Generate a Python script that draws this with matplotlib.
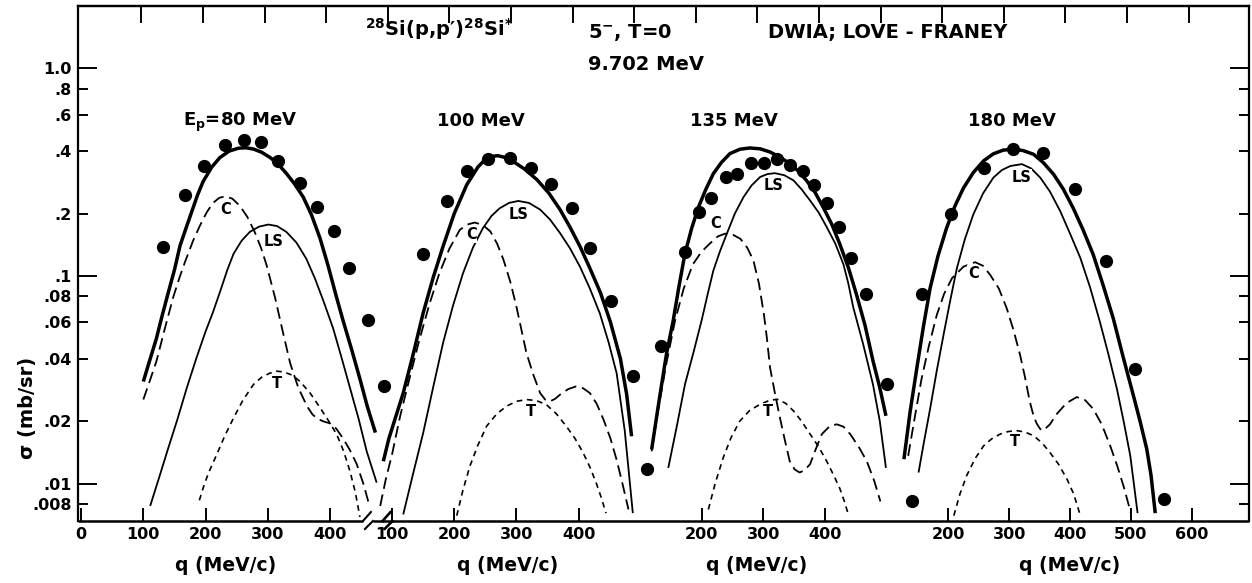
import matplotlib
matplotlib.use("Agg")
import matplotlib.pyplot as plt
import numpy as np
from matplotlib.transforms import blended_transform_factory
from matplotlib.ticker import FixedLocator, FixedFormatter

plt.rcParams["font.family"] = ["DejaVu Sans"]
plt.rcParams["font.weight"] = "bold"
plt.rcParams["mathtext.default"] = "regular"

# values: (q in MeV/c, sigma in mb/sr)
# E_p = 80 MeV
exp80 = [(132, .138), (167, .246), (197, .340), (231, .427), (261, .452), (289, .443),
         (317, .359), (351, .280), (379, .216), (407, .164), (431, .109), (461, .0614),
         (486, .0294)]
tot80 = [(100, .031), (110, .039), (121, .050), (130, .064), (140, .083), (150, .107),
         (159, .140), (168, .168), (178, .205), (187, .245), (196, .285), (210, .335),
         (223, .372), (238, .400), (253, .413), (265, .415), (277, .409), (290, .395),
         (304, .372), (317, .345), (330, .312), (343, .278), (357, .240), (370, .198),
         (384, .152), (397, .112), (410, .080), (421, .061), (435, .044), (448, .032),
         (460, .0235), (473, .0176)]
c80 = [(100, .0254), (110, .031), (121, .0388), (134, .055), (148, .079), (158, .098),
       (167, .117), (180, .148), (191, .175), (202, .203), (212, .225), (222, .238),
       (231, .242), (243, .236), (255, .218), (267, .193), (279, .163), (289, .137),
       (298, .113), (305, .094), (312, .078), (319, .063), (326, .051), (336, .038),
       (349, .029), (363, .0236), (372, .0215), (380, .0205), (390, .0199), (400, .0195),
       (410, .0184), (421, .0165), (432, .0145), (443, .0124), (454, .0099), (464, .0077)]
ls80 = [(111, .0078), (125, .0106), (140, .0148), (155, .0205), (170, .029), (185, .040),
        (200, .054), (212, .067), (225, .087), (235, .107), (245, .128), (258, .148),
        (271, .163), (286, .173), (301, .177), (315, .174), (330, .163), (346, .145),
        (362, .121), (376, .097), (390, .075), (405, .056), (418, .041), (432, .029),
        (446, .0205), (459, .0143), (475, .0101)]
t80 = [(190, .0083), (197, .0097), (205, .0113), (218, .0138), (231, .0170), (245, .0207),
       (260, .0252), (277, .030), (290, .0325), (303, .0340), (314, .0348), (326, .0345),
       (340, .0332), (352, .031), (368, .0273), (384, .0232), (398, .0200), (411, .0172),
       (422, .0143), (432, .0115), (441, .0090), (448, .0069)]

# E_p = 100 MeV
exp100 = [(150, .128), (188, .231), (221, .319), (255, .367), (290, .370), (324, .331),
          (356, .278), (390, .212), (418, .136), (452, .0754), (487, .0331), (509, .0118)]
tot100 = [(86, .0128), (95, .0165), (106, .021), (118, .0273), (134, .042), (150, .0663),
          (166, .098), (182, .139), (200, .200), (220, .275), (238, .335), (250, .365),
          (258, .376), (270, .380), (283, .372), (295, .356), (314, .326), (333, .291),
          (352, .251), (370, .209), (386, .172), (402, .139), (418, .109), (435, .083),
          (451, .060), (467, .040), (477, .027), (485, .0169)]
c100 = [(81, .0078), (90, .0105), (100, .0138), (113, .0211), (128, .032), (144, .0493),
        (160, .073), (176, .103), (192, .135), (209, .167), (221, .177), (233, .181),
        (246, .176), (258, .164), (269, .143), (279, .120), (290, .094), (300, .071),
        (308, .055), (316, .0426), (327, .0335), (338, .0273), (346, .0254), (354, .0249),
        (362, .0256), (370, .0268), (383, .0285), (396, .0294), (407, .0288), (418, .0273),
        (429, .0242), (440, .0203), (451, .0165), (461, .0130), (471, .0098), (480, .0075)]
ls100 = [(118, .0071), (134, .0112), (150, .0175), (166, .029), (182, .0476), (198, .072),
         (214, .103), (230, .137), (246, .170), (260, .195), (273, .212), (288, .225),
         (303, .230), (320, .225), (338, .209), (354, .187), (370, .161), (386, .136),
         (402, .111), (418, .087), (434, .066), (448, .048), (461, .034), (474, .018),
         (487, .0072)]
t100 = [(204, .0070), (214, .0093), (225, .0121), (238, .0153), (252, .0189), (268, .0216),
        (284, .0236), (300, .0249), (316, .0254), (332, .0251), (348, .0240), (364, .0217),
        (380, .0189), (394, .0165), (407, .0141), (418, .0120), (428, .0101), (436, .0086),
        (444, .0072)]

# E_p = 135 MeV
exp135 = [(135, .0461), (173, .130), (196, .203), (215, .238), (240, .300), (258, .311),
          (280, .352), (302, .352), (323, .368), (343, .341), (364, .319), (382, .273),
          (404, .225), (423, .173), (442, .122), (467, .0819), (501, .0301), (542, .0082)]
tot135 = [(119, .0146), (131, .025), (143, .042), (154, .061), (163, .088), (173, .128),
          (184, .170), (195, .215), (207, .262), (219, .311), (232, .352), (246, .389),
          (262, .408), (278, .414), (295, .410), (311, .396), (327, .374), (343, .348),
          (357, .320), (370, .289), (384, .253), (397, .215), (411, .178), (424, .143),
          (438, .110), (451, .0819), (465, .058), (478, .039), (489, .029), (499, .0212)]
c135 = [(119, .0143), (130, .023), (143, .038), (157, .061), (171, .087), (186, .114),
        (200, .131), (213, .143), (226, .155), (238, .160), (251, .158), (263, .151),
        (274, .137), (284, .119), (293, .092), (301, .0656), (306, .050), (311, .0362),
        (319, .0272), (327, .0208), (335, .0162), (343, .0128), (351, .0117), (359, .0113),
        (367, .0116), (376, .0124), (385, .0146), (395, .0173), (407, .0188), (419, .0193),
        (430, .0188), (441, .0173), (455, .0150), (468, .0128), (480, .0103), (490, .0082)]
ls135 = [(146, .0119), (160, .019), (173, .030), (187, .043), (200, .061), (210, .082),
         (219, .106), (230, .132), (241, .160), (254, .200), (268, .240), (281, .273),
         (295, .300), (307, .310), (319, .313), (334, .306), (349, .289), (362, .262),
         (376, .231), (390, .202), (403, .172), (417, .143), (430, .114), (438, .092),
         (446, .0706), (462, .047), (478, .030), (489, .020), (499, .0119)]
t135 = [(211, .0075), (222, .0100), (235, .0133), (248, .0167), (262, .0200), (278, .0225),
        (295, .0241), (308, .0250), (322, .0255), (336, .0244), (349, .0224), (362, .0200),
        (376, .0173), (390, .0150), (403, .0128), (414, .0110), (424, .0095), (431, .0083),
        (438, .0071)]

# E_p = 180 MeV
exp180 = [(156, .0816), (204, .199), (258, .333), (306, .411), (356, .391), (408, .262),
          (459, .1175), (506, .0357), (555, .0084)]
tot180 = [(127, .0131), (137, .022), (148, .0357), (159, .057), (170, .0873), (183, .125),
          (197, .170), (211, .218), (225, .266), (241, .315), (258, .359), (274, .388),
          (290, .404), (307, .409), (323, .402), (340, .386), (356, .352), (373, .309),
          (389, .262), (405, .213), (421, .168), (438, .127), (454, .091), (471, .0625),
          (487, .041), (504, .0266), (515, .020), (526, .0147), (533, .011), (540, .0072)]
c180 = [(134, .0136), (145, .021), (156, .032), (168, .046), (181, .0649), (193, .082),
        (206, .0976), (225, .111), (244, .1166), (257, .112), (269, .101), (283, .087),
        (296, .0698), (307, .055), (318, .0415), (326, .0325), (334, .0247), (340, .0212),
        (345, .0195), (351, .0183), (356, .018), (367, .0193), (378, .0216), (394, .0244),
        (411, .0261), (425, .0252), (438, .0229), (452, .0193), (466, .0152), (477, .0123),
        (488, .0097), (500, .0072)]
ls180 = [(151, .0113), (160, .0159), (170, .0229), (181, .035), (192, .0519), (203, .076),
         (214, .109), (227, .150), (241, .198), (257, .250), (274, .298), (288, .324),
         (302, .339), (321, .346), (336, .330), (351, .298), (367, .255), (384, .205),
         (400, .160), (417, .122), (433, .088), (449, .0602), (463, .042), (477, .0286),
         (488, .020), (499, .0136), (511, .0072)]
t180 = [(209, .0070), (219, .0089), (230, .0109), (244, .0132), (258, .0152), (271, .0164),
        (285, .0173), (298, .0178), (312, .0180), (326, .0177), (340, .0170), (354, .0157),
        (367, .0141), (381, .0124), (395, .0105), (406, .0089), (417, .0070)]

# each panel sits on one shared abscissa: X = shift + stretch * q
panels = [
    dict(exp=exp80, tot=tot80, c=c80, ls=ls80, t=t80, shift=0.0, stretch=1.0,
         ticks=[0, 100, 200, 300, 400], title="E$_p$=80 MeV", title_q=164, xlab_q=233,
         lab_c=(233, .209), lab_ls=(309, .147), lab_t=(314, .0305), brk=461),
    dict(exp=exp100, tot=tot100, c=c100, ls=ls100, t=t100, shift=399.7, stretch=1.0,
         ticks=[100, 200, 300, 400], title="100 MeV", title_q=172, xlab_q=286,
         lab_c=(228, .158), lab_ls=(304, .197), lab_t=(324, .0223), brk=493),
    dict(exp=exp135, tot=tot135, c=c135, ls=ls135, t=t135, shift=799.0, stretch=0.991,
         ticks=[200, 300, 400], title="135 MeV", title_q=181, xlab_q=290,
         lab_c=(222, .179), lab_ls=(316, .272), lab_t=(308, .0223), brk=492),
    dict(exp=exp180, tot=tot180, c=c180, ls=ls180, t=t180, shift=1198.2, stretch=0.978,
         ticks=[200, 300, 400, 500, 600], title="180 MeV", title_q=232, xlab_q=400,
         lab_c=(241, .103), lab_ls=(321, .299), lab_t=(310, .0159), brk=None),
]

W, H = 1252, 583
X0, X1 = -5, 1877
fig = plt.figure(figsize=(W / 100, H / 100), dpi=100)
ax = fig.add_axes([78 / W, 62 / H, 1171 / W, 515 / H])
ax.set_xlim(X0, X1)
ax.set_yscale("log")
ax.set_ylim(0.0066, 2.0)
tr = blended_transform_factory(ax.transData, ax.transAxes)


def to_x(p, q):
    return p["shift"] + p["stretch"] * np.asarray(q, dtype=float)


styles = {
    "tot": dict(lw=2.5),
    "ls": dict(lw=1.3),
    "c": dict(lw=1.3, dashes=(6.5, 3.2)),
    "t": dict(lw=1.2, dashes=(3.4, 2.8)),
}

xt, xl = [], []
for p in panels:
    for key, st in styles.items():
        q, s = zip(*p[key])
        ax.plot(to_x(p, q), s, color="black", solid_capstyle="butt", **st)
    q, s = zip(*p["exp"])
    ax.plot(to_x(p, q), s, "o", color="black", ms=8.5, zorder=5)
    for key, txt in [("lab_c", "C"), ("lab_ls", "LS"), ("lab_t", "T")]:
        lq, lsig = p[key]
        ax.text(to_x(p, lq), lsig, txt, fontsize=10.5, ha="center", va="center",
                bbox=dict(fc="white", ec="none", pad=0.3))
    ax.text(to_x(p, p["title_q"]), 0.53, p["title"], fontsize=13, ha="left",
            va="baseline")
    ax.text(to_x(p, p["xlab_q"]), -0.068, "q (MeV/c)", transform=tr,
            fontsize=13.5, ha="center", va="top")
    xt += list(to_x(p, p["ticks"]))
    xl += [str(v) for v in p["ticks"]]

# y axis: long ticks at decades, short ones at 2-4-6-8, all labelled
ax.yaxis.set_major_locator(FixedLocator([0.01, 0.1, 1.0]))
ax.yaxis.set_major_formatter(FixedFormatter([".01", ".1", "1.0"]))
ax.yaxis.set_minor_locator(FixedLocator([.008, .02, .04, .06, .08, .2, .4, .6, .8]))
ax.yaxis.set_minor_formatter(FixedFormatter([".008", ".02", ".04", ".06", ".08",
                                             ".2", ".4", ".6", ".8"]))
ax.tick_params(axis="y", which="both", direction="in", left=True, right=True,
               labelsize=11.5, pad=4.5, width=1.4)
ax.tick_params(axis="y", which="major", length=13.5)
ax.tick_params(axis="y", which="minor", length=7)

ax.set_xticks(xt)
ax.set_xticklabels(xl)
ax.xaxis.set_minor_locator(FixedLocator([]))
ax.tick_params(axis="x", which="both", direction="in", length=9.5, width=1.4,
               labelsize=11.5, pad=4)

top = ax.secondary_xaxis("top")
top.set_xticks(97 + 99 * np.arange(18))
top.set_xticklabels([])
top.tick_params(direction="in", length=12, width=1.4)
top.spines["top"].set_linewidth(1.6)

for side in ["left", "right", "top"]:
    ax.spines[side].set_linewidth(1.6)
ax.spines["bottom"].set_visible(False)

# broken bottom axis with // marks between the panels
px_x = (X1 - X0) / 1171.0
px_y = 1 / 515.0
prev = X0
for p in panels:
    b = p["brk"]
    if b is None:
        continue
    ax.plot([prev, b - 5 * px_x], [0, 0], color="black", lw=1.8, transform=tr,
            clip_on=False, solid_capstyle="butt")
    ax.plot([b - 5 * px_x, b + 3 * px_x], [0, 9 * px_y], color="black", lw=1.5,
            transform=tr, clip_on=False)
    ax.plot([b - 3 * px_x, b + 5 * px_x], [-8 * px_y, 0], color="black", lw=1.5,
            transform=tr, clip_on=False)
    prev = b + 5 * px_x
ax.plot([prev, X1], [0, 0], color="black", lw=1.8, transform=tr, clip_on=False,
        solid_capstyle="butt")

fig.text(27 / W, 1 - 408 / H, "σ (mb/sr)", rotation=90, fontsize=14,
         ha="center", va="center")
fig.text(365 / W, 1 - 36 / H, "$^{28}$Si(p,p′)$^{28}$Si$^{*}$", fontsize=14,
         va="baseline")
fig.text(588 / W, 1 - 38 / H, "5$^{-}$, T=0", fontsize=14, va="baseline")
fig.text(588 / W, 1 - 70 / H, "9.702 MeV", fontsize=14, va="baseline")
fig.text(768 / W, 1 - 38 / H, "DWIA; LOVE - FRANEY", fontsize=14, va="baseline")

fig.savefig("out.png", dpi=100)
